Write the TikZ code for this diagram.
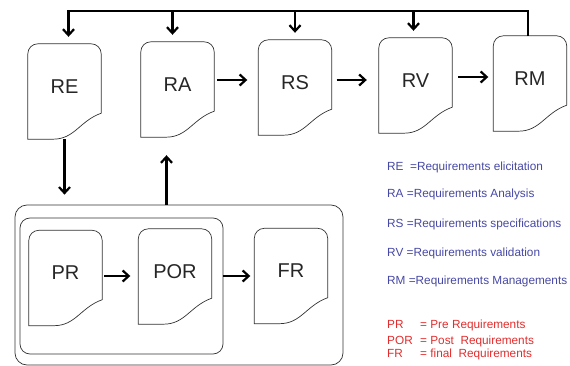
\documentclass[tikz,border=0pt]{standalone}
\usepackage{fontspec}
\setmainfont{Liberation Sans}
\usepackage{tikz}
\usetikzlibrary{arrows.meta}

\definecolor{legendblue}{RGB}{70,72,165}
\definecolor{legendred}{RGB}{225,45,45}

\tikzset{
  docnode/.style={minimum width=73pt, minimum height=95pt, inner sep=0pt, text depth=10pt,
    font=\fontsize{20}{24}\selectfont, text=black!85},
  docedge/.style={line width=0.7pt, draw=black!80},
  groupbox/.style={draw=black!80, line width=0.7pt, rounded corners=12pt, inner sep=0pt},
  flow/.style={line width=2.2pt, -{Straight Barb[length=6pt, width=11pt]}},
  bus/.style={line width=2.6pt, line cap=rect},
  legend/.style={anchor=base west, inner sep=0pt, font=\fontsize{11.8}{14}\selectfont}
}

\newcommand{\docline}[1]{%
  \draw[docedge] (#1.south west) -- ([yshift=-10pt]#1.north west)
    arc[start angle=180, end angle=90, radius=10pt] -- ([xshift=-10pt]#1.north east)
    arc[start angle=90, end angle=0, radius=10pt] -- ([yshift=26pt]#1.south east)
    .. controls +(-22pt,-8pt) and +(22pt,0pt) .. ([xshift=25pt]#1.south west) -- cycle;}

\begin{document}
\begin{tikzpicture}[x=1pt, y=-1pt]
  \useasboundingbox (0,0) rectangle (570,366);

  \node[docnode] (RE) at (64.5,91.5) {RE};
  \node[docnode] (RA) at (177.5,89.5) {RA};
  \node[docnode] (RS) at (295,87.5) {RS};
  \node[docnode] (RV) at (415.5,85.5) {RV};
  \node[docnode] (RM) at (530,83.5) {RM};

  \node[groupbox, minimum width=328pt, minimum height=160pt] (stage) at (179,285) {};
  \node[groupbox, rounded corners=10pt, minimum width=203pt, minimum height=136pt] (pre) at (121.5,286) {};
  \node[docnode] (PR) at (65.5,278) {PR};
  \node[docnode] (POR) at (175,276.5) {POR};
  \node[docnode] (FR) at (291,276) {FR};

  \foreach \n in {RE,RA,RS,RV,RM,PR,POR,FR}
    \docline{\n};

  % feedback bus from RM
  \coordinate (busR) at (528,11);
  \coordinate (busL) at (68.5,11);
  \draw[line width=1.4pt] ([xshift=-2pt]RM.north) -- (busR);
  \draw[bus] (busR) -- (busL);
  \foreach \n/\dx in {RE/4, RA/-5, RS/0, RV/-2}
    \draw[flow] ([xshift=\dx pt]\n.north |- busL) -- ([xshift=\dx pt, yshift=7pt]\n.north);

  \foreach \a/\b/\y/\s/\t in {RA/RS/80/3/11, RS/RV/80/5/12, RV/RM/77/6/5, PR/POR/276/2/8, POR/FR/276/11/4}
    \draw[flow, shorten <=\s pt, shorten >=\t pt] (\a.east |- 0,\y) -- (\b.west |- 0,\y);

  \draw[flow, shorten >=10pt] (RE.south) -- (RE.south |- stage.north);
  \draw[flow] ([xshift=-11pt]RA.south |- stage.north) -- ([xshift=-11pt, yshift=-18pt]RA.south);

  \node[legend, text=legendblue] (leRE) at (387,171) {RE\ \ =Requirements elicitation};
  \node[legend, text=legendblue] (leRA) at (387,198) {RA =Requirements Analysis};
  \node[legend, text=legendblue] (leRS) at (387,227) {RS =Requirements specifications};
  \node[legend, text=legendblue] (leRV) at (387,256) {RV =Requirements validation};
  \node[legend, text=legendblue] (leRM) at (387,284) {RM =Requirements Managements};

  \node[legend, text=legendred] (lePR) at (387,328) {\makebox[33pt][l]{PR}= Pre Requirements};
  \node[legend, text=legendred] (lePOR) at (387,344) {\makebox[33pt][l]{POR}= Post\ \ Requirements};
  \node[legend, text=legendred] (leFR) at (387,357) {\makebox[33pt][l]{FR}= final\ \ Requirements};
\end{tikzpicture}
\end{document}
